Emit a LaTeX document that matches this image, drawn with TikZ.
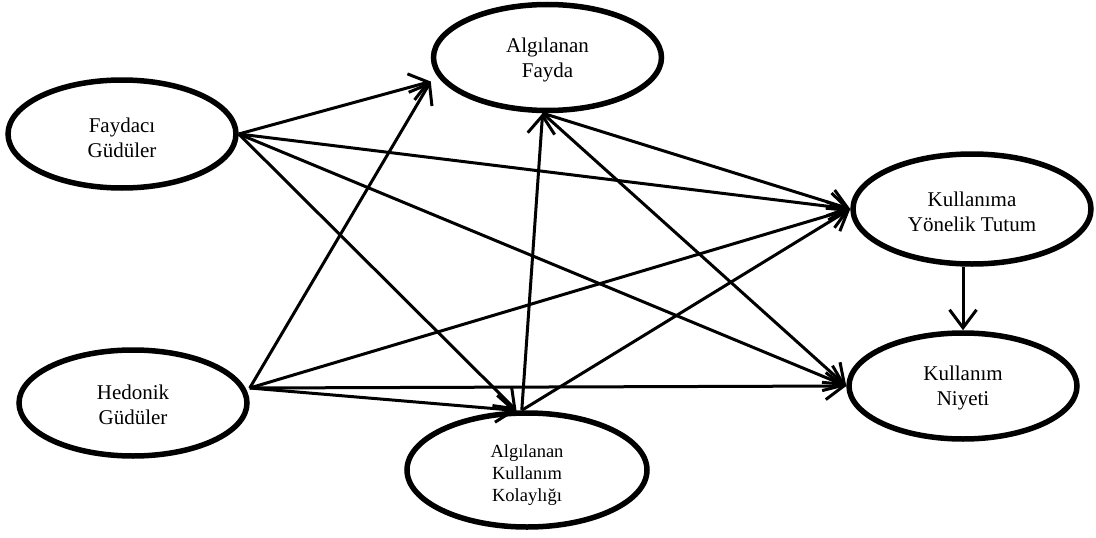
\documentclass[tikz,border=0pt]{standalone}
\usepackage{fontspec}
\setmainfont{Liberation Serif}
\usetikzlibrary{arrows.meta,calc,shapes.geometric}
% invisible strut that lowers a label a little inside its ellipse
\newcommand{\toplift}[1]{\rule{0pt}{#1}}
\begin{document}
\begin{tikzpicture}[x=1pt,y=-1pt,
  construct/.style={draw, ellipse, line width=5.5pt, inner sep=0pt, align=center,
    font=\fontsize{21}{25}\selectfont},
  link/.style={line width=3pt, line join=miter,
    -{Straight Barb[length=18pt,width=27pt]}}]
\useasboundingbox (0,0) rectangle (1096,538);

% latent constructs
\node[construct, minimum width=228pt, minimum height=108pt] (FG) at (122,134) {\toplift{23pt}Faydacı\\Güdüler};
\node[construct, minimum width=228pt, minimum height=106pt] (HG) at (133,403) {\toplift{19pt}Hedonik\\Güdüler};
\node[construct, minimum width=228pt, minimum height=106pt] (AF) at (547.5,57.5) {\toplift{20pt}Algılanan\\Fayda};
\node[construct, minimum width=240pt, minimum height=114pt,
      font=\fontsize{18.5}{22}\selectfont] (AKK) at (527,470) {\toplift{22pt}Algılanan\\Kullanım\\Kolaylığı};
\node[construct, minimum width=238pt, minimum height=110pt] (KT) at (972,209) {\toplift{21pt}Kullanıma\\Yönelik Tutum};
\node[construct, minimum width=228pt, minimum height=106pt] (KN) at (963,386) {\toplift{19pt}Kullanım\\Niyeti};

% shared end points on the ellipse rims
\coordinate (AFin) at ($(AF.west)+(0,24)$);
\coordinate (HGout) at ($(HG.east)+(0,-15)$);

% paths
\draw[link] (FG.east) -- (AFin);
\draw[link] (FG.east) -- (KT.west);
\draw[link] (FG.east) -- (KN.west);
\draw[link] (FG.east) -- (AKK.100);
\draw[link] (HGout) -- (AFin);
\draw[link] (HGout) -- (KT.west);
\draw[link] (HGout) -- (KN.west);
\draw[link] (HGout) -- (AKK.100);
\draw[link] (AKK.95) -- (AF.265);
\draw[link] (AKK.95) -- (KT.west);
\draw[link] (AF.265) -- (KT.west);
\draw[link] (AF.265) -- (KN.west);
\draw[link] (KT.south -| KN.north) -- (KN.north);
\end{tikzpicture}
\end{document}
